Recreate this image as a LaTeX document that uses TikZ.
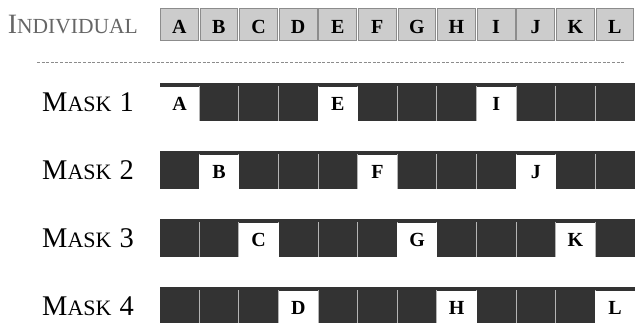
\documentclass[tikz,border=0pt]{standalone}
\usepackage{fontspec}
\setmainfont{Liberation Serif}
\usetikzlibrary{positioning}
\definecolor{genegray}{HTML}{CCCCCC}
\definecolor{generim}{HTML}{8C8C8C}
\definecolor{maskdark}{HTML}{333333}
\definecolor{masksep}{HTML}{B4B4B4}
\definecolor{labelgray}{HTML}{666666}
\newcommand{\fakesc}[2]{{\fontsize{28}{28}\selectfont #1}{\fontsize{21.5}{21.5}\selectfont #2}}
\tikzset{
  gene/.style={rectangle, draw=generim, line width=0.8pt, fill=genegray, minimum width=37.8pt, minimum height=32.5pt, inner sep=0pt, text height=17pt, text depth=0pt, font=\fontsize{20}{20}\selectfont\bfseries},
  maskbar/.style={rectangle, fill=maskdark, minimum width=475.2pt, minimum height=38pt, inner sep=0pt, anchor=north west},
  maskon/.style={rectangle, fill=white, minimum width=39.6pt, minimum height=34pt, inner sep=0pt, anchor=north west, text height=13.6pt, text depth=0pt, font=\fontsize{20}{20}\selectfont\bfseries},
  sepline/.style={draw=masksep, line width=0.8pt},
  rowlabel/.style={anchor=base east, inner sep=0pt},
}

\begin{document}
\begin{tikzpicture}[x=1pt,y=-1pt]
  \useasboundingbox (0,0) rectangle (639,322);
  \clip (0,0) rectangle (639,322);
  % individual
  \node[rowlabel,text=labelgray] (indiv) at (138,33) {\fakesc{I}{NDIVIDUAL}};
  \foreach \g [count=\i] in {A,B,C,D,E,F,G,H,I,J,K,L}
    \node[gene] (gene-\i) at ({159.5+39.6*(\i-1)+19.8},24.5) {\g};
  % separator
  \coordinate (dash-l) at (37,62);
  \coordinate (dash-r) at (625,62);
  \draw[generim, dash pattern=on 3pt off 1.6pt, line width=0.8pt] (dash-l) -- (dash-r);
  % masks
  \foreach \k in {1,...,4}{
    \pgfmathsetmacro{\rowtop}{82.3+68*(\k-1)}
    \node[maskbar] (bar-\k) at (159.5,\rowtop) {};
    \node[rowlabel] (mask-\k) at (134,\rowtop+29.5) {{\fontsize{28.5}{28.5}\selectfont M}{\fontsize{22}{22}\selectfont ASK}\hspace{8pt}{\fontsize{28.5}{28.5}\selectfont\k}};
    \foreach \j in {1,...,11}
      \draw[sepline] ([xshift={39.6pt*\j},yshift=-4pt]bar-\k.north west) -- ([xshift={39.6pt*\j}]bar-\k.south west);
    \foreach \g [count=\i] in {A,B,C,D,E,F,G,H,I,J,K,L}{
      \pgfmathtruncatemacro{\slot}{mod(\i-1,4)+1}
      \ifnum\slot=\k
        \node[maskon] (on-\k-\i) at ([xshift={39.6pt*(\i-1)},yshift=-4pt]bar-\k.north west) {\g};
      \fi
    }
  }
\end{tikzpicture}
\end{document}
